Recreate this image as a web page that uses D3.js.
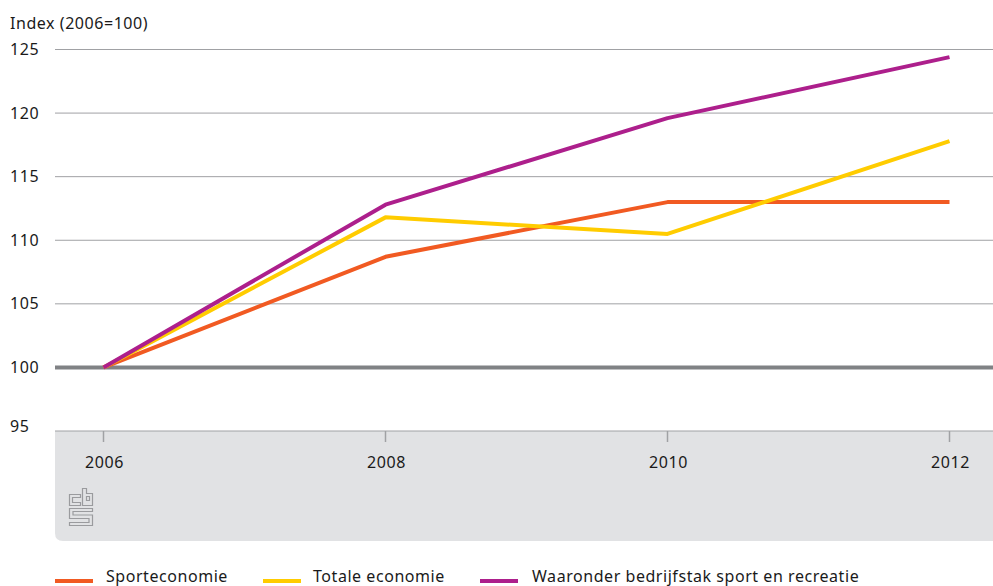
<!DOCTYPE html>
<html><head><meta charset="utf-8">
<style>html,body{margin:0;padding:0;background:#fff}svg{display:block}
text{font-family:"Noto Sans",sans-serif;font-size:16px;fill:#1a1a1a;letter-spacing:.55px}</style>
<script src="https://cdn.jsdelivr.net/npm/d3@7"></script></head><body>
<svg id="c" width="993" height="586"></svg>
<script>
const years=[2006,2008,2010,2012];
const yTicks=[95,100,105,110,115,120,125];
const sporteconomie=[100,108.7,113,113];
const totaleEconomie=[100,111.8,110.5,117.8];
const sportRecreatie=[100,112.8,119.6,124.4];
const names=["Sporteconomie","Totale economie","Waaronder bedrijfstak sport en recreatie"];
const colors=["#f15a22","#ffcc00","#ad1f8c"];
const yTitle="Index (2006=100)";

const svg=d3.select("#c");
const x=d3.scaleLinear().domain([2006,2012]).range([103.5,949.5]);
const y=d3.scaleLinear().domain([95,125]).range([431,49.5]);
const L=55,R=993;

svg.append("path").attr("fill","#e1e2e4")
  .attr("d",`M${L},431H${R}V541H${L+8}Q${L},541 ${L},533Z`);

svg.append("g").selectAll("line").data(yTicks).join("line")
  .attr("x1",L).attr("x2",R).attr("y1",d=>y(d)).attr("y2",d=>y(d))
  .attr("stroke",d=>d===100?"#808285":"#a0a1a4")
  .attr("stroke-width",d=>d===100?4:1);

svg.append("g").selectAll("text").data(yTicks).join("text")
  .attr("x",10).attr("y",d=>y(d)+(d===95?1:5.5)).text(d=>d);
svg.append("text").attr("x",10).attr("y",29).text(yTitle);

svg.append("g").selectAll("line").data(years).join("line")
  .attr("x1",d=>x(d)).attr("x2",d=>x(d)).attr("y1",431).attr("y2",442)
  .attr("stroke","#a0a1a4").attr("stroke-width",1.5);
svg.append("g").selectAll("text").data(years).join("text")
  .attr("x",d=>x(d)+1).attr("y",468).attr("text-anchor","middle").text(d=>d);

const line=d3.line().x((d,i)=>x(years[i])).y(d=>y(d));
[sporteconomie,totaleEconomie,sportRecreatie].forEach((s,i)=>{
  svg.append("path").datum(s).attr("fill","none").attr("stroke",colors[i])
    .attr("stroke-width",4).attr("stroke-linejoin","round").attr("d",line);
});

svg.append("path").attr("fill","none").attr("stroke","#9a9b9e").attr("stroke-width",1.2)
 .attr("d","M69.5,494.5H80.5V497.5H72.5V502.5H80.5V505.5H69.5Z M82.5,488.5H86.5V493.5H92.5V505.5H82.5Z M86.5,496.5H89.5V500.5H86.5Z M69.5,508.5H92.5V511.5H73V515H92.5V525.5H69.5V522.5H89V518.5H69.5Z");

const lx=[55,263,480],tx=[106,313,532];
names.forEach((n,i)=>{
  svg.append("line").attr("x1",lx[i]).attr("x2",lx[i]+38).attr("y1",581).attr("y2",581)
    .attr("stroke",colors[i]).attr("stroke-width",4);
  svg.append("text").attr("x",tx[i]).attr("y",581.5).text(n);
});
</script></body></html>
